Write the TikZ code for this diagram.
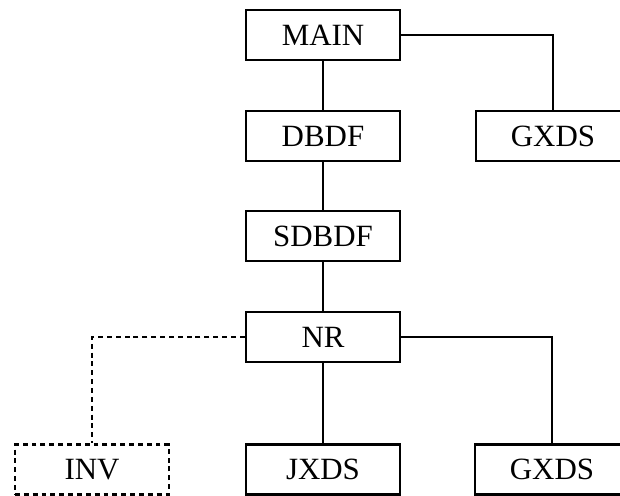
\documentclass[tikz,border=0pt]{standalone}
\usepackage{fontspec}
\setmainfont{Liberation Serif}
\usepackage{tikz}
\usetikzlibrary{positioning, calc}
\tikzset{
  box/.style    ={draw, line width=1.8pt, align=center, inner sep=0pt,
                  minimum width=3.85cm, minimum height=1.25cm,
                  font=\fontsize{22}{26}\selectfont, fill=white},
  dbox/.style   ={box, dash pattern=on 3.5pt off 2.8pt},
  link/.style   ={line width=1.6pt},
  dlink/.style  ={line width=1.6pt, dash pattern=on 3.5pt off 2.8pt},
}

\begin{document}
\begin{tikzpicture}[x=0.025cm, y=-0.025cm]
  \useasboundingbox (0,0) rectangle (620,495);
  \node[box]  (MAIN)  at (323,35)    {MAIN};
  \node[box]  (DBDF)  at (323,136)   {DBDF};
  \node[box]  (GXDSa) at (553,136)   {GXDS};
  \node[box]  (SDBDF) at (323,236)   {SDBDF};
  \node[box]  (NR)    at (323,337)   {NR};
  \node[dbox] (INV)   at (92,469.5)  {INV};
  \node[box]  (JXDS)  at (323,469.5) {JXDS};
  \node[box]  (GXDSb) at (552,469.5) {GXDS};
  \draw[link]  (MAIN)       -- (DBDF);
  \draw[link]  (MAIN.east)  -| (GXDSa.north);
  \draw[link]  (DBDF)       -- (SDBDF);
  \draw[link]  (SDBDF)      -- (NR);
  \draw[link]  (NR)         -- (JXDS);
  \draw[link]  (NR.east)    -| (GXDSb.north);
  \draw[dlink] (NR.west)    -| (INV.north);
\end{tikzpicture}
\end{document}
